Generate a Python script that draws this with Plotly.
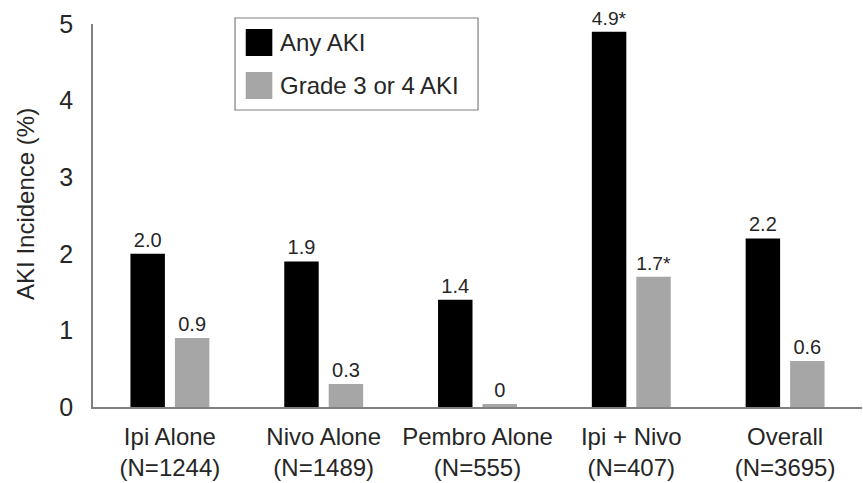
import plotly.graph_objects as go

categories = ["Ipi Alone<br>(N=1244)", "Nivo Alone<br>(N=1489)", "Pembro Alone<br>(N=555)",
              "Ipi + Nivo<br>(N=407)", "Overall<br>(N=3695)"]
any_aki = [2.0, 1.9, 1.4, 4.9, 2.2]
any_aki_labels = ["2.0", "1.9", "1.4", "4.9*", "2.2"]
grade34_aki = [0.9, 0.3, 0.04, 1.7, 0.6]
grade34_labels = ["0.9", "0.3", "0", "1.7*", "0.6"]
series_names = ["Any AKI", "Grade 3 or 4 AKI"]
colors = ["#000000", "#a6a6a6"]
y_ticks = [0, 1, 2, 3, 4, 5]

FONT = "Arial, Liberation Sans, sans-serif"
TXT = "#262626"

fig = go.Figure()
for vals, labs, name, col in [(any_aki, any_aki_labels, series_names[0], colors[0]),
                              (grade34_aki, grade34_labels, series_names[1], colors[1])]:
    fig.add_trace(go.Bar(
        x=categories, y=vals, name=name, marker=dict(color=col, line=dict(width=0)),
        text=labs, textposition="outside", cliponaxis=False,
        textfont=dict(size=20, color=TXT, family=FONT), showlegend=False,
    ))

# manual legend (box, swatches, labels)
shapes = [
    dict(type="rect", xref="paper", yref="paper", x0=0.1847, x1=0.5007, y0=0.7755, y1=1.0157,
         line=dict(color="#7f7f7f", width=1.2), fillcolor="white", layer="below"),
    dict(type="rect", xref="paper", yref="paper", x0=0.1986, x1=0.2332, y0=0.9164, y1=0.9869,
         line=dict(width=0), fillcolor=colors[0]),
    dict(type="rect", xref="paper", yref="paper", x0=0.1986, x1=0.2332, y0=0.8042, y1=0.8747,
         line=dict(width=0), fillcolor=colors[1]),
]
annotations = [
    dict(xref="paper", yref="paper", x=0.2405, y=0.9504, text=series_names[0], showarrow=False,
         xanchor="left", yanchor="middle", font=dict(size=24, color=TXT, family=FONT)),
    dict(xref="paper", yref="paper", x=0.2405, y=0.8407, text=series_names[1], showarrow=False,
         xanchor="left", yanchor="middle", font=dict(size=24, color=TXT, family=FONT)),
    dict(xref="paper", yref="paper", x=-0.0885, y=0.53, text="AKI Incidence (%)", showarrow=False,
         textangle=-90, xanchor="center", yanchor="middle", font=dict(size=24, color=TXT, family=FONT)),
]

fig.update_layout(
    width=863, height=483,
    margin=dict(l=93, r=1, t=24, b=76),
    paper_bgcolor="white", plot_bgcolor="white",
    barmode="group", bargap=0.422, bargroupgap=0.225,
    shapes=shapes, annotations=annotations,
    font=dict(family=FONT, color=TXT),
)
fig.update_xaxes(
    showline=True, linecolor="#808080", linewidth=1.5, showgrid=False, ticks="",
    tickfont=dict(size=24, color=TXT, family=FONT), ticklabelstandoff=7,
)
fig.update_yaxes(
    range=[0, 5], tickvals=y_ticks, showline=True, linecolor="#808080", linewidth=1.5,
    showgrid=False, ticks="", zeroline=False,
    tickfont=dict(size=25, color=TXT, family=FONT), ticklabelstandoff=13,
)

fig.write_html("out.html", config={"displayModeBar": False},
               post_script="document.body.style.margin='0';")
